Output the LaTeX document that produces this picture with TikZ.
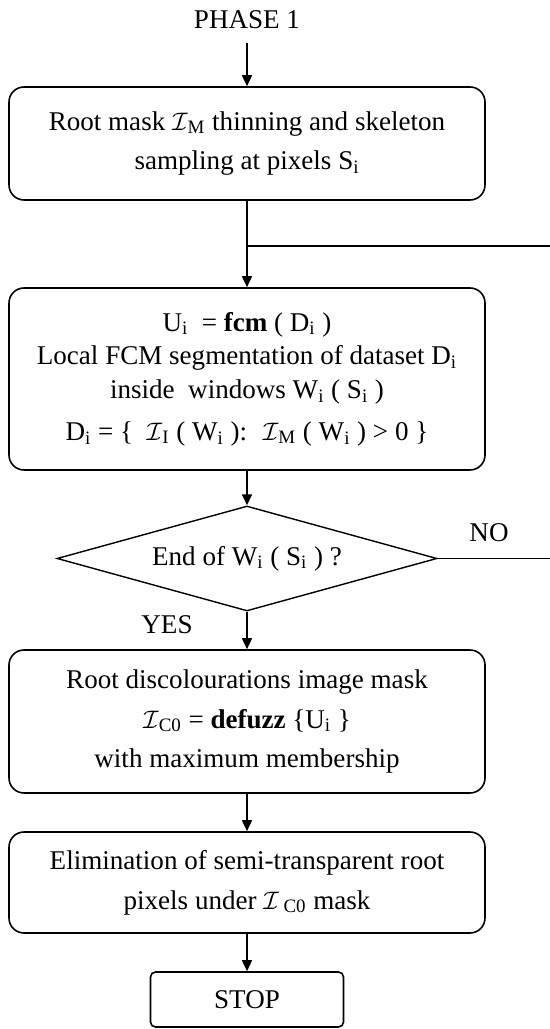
\documentclass[tikz,border=0pt]{standalone}
\usepackage{fontspec}
\setmainfont{Liberation Serif}
\usetikzlibrary{arrows.meta,shapes.geometric}

\newcommand{\sbs}[1]{\textsubscript{#1}}
\newcommand{\imgI}{$\mathcal{I}$}

\begin{document}
\begin{tikzpicture}[
    font=\fontsize{15.4}{22.7}\selectfont,
    procbox/.style={draw, line width=0.9pt, rounded corners=0.3cm, minimum width=9.52cm, align=center, inner sep=0pt},
    decision/.style={draw, line width=0.8pt, diamond, aspect=3.62, minimum width=7.6cm, minimum height=2.1cm, inner sep=0pt},
    stopbox/.style={draw, line width=0.9pt, rounded corners=0.1cm, minimum width=3.86cm, minimum height=1.1cm},
    flow/.style={line width=0.9pt, -{Triangle[length=2.2mm,width=2mm]}},
    link/.style={line width=0.9pt}
]
        \useasboundingbox (0,0) rectangle (11,20.58);

        \coordinate (junc) at (4.94,15.66);
        \coordinate (back) at (11,15.66);
        \coordinate (noend) at (11,9.41);

        \node[inner ysep=8pt] (phase) at (4.94,20.18) {PHASE 1};
        \node[procbox, minimum height=2.26cm] (thin) at (4.94,17.71) {Root mask \imgI\sbs{M} thinning and skeleton\\sampling at pixels S\sbs{i}};
        \node[procbox, minimum height=3.64cm] (fcm) at (4.94,13.0) {U\sbs{i} \ = \textbf{fcm} ( D\sbs{i} )\\[-3.5pt]
            Local FCM segmentation of dataset D\sbs{i}\\[-3.5pt]
            inside \ windows W\sbs{i} ( S\sbs{i} )\\[1pt]
            D\sbs{i} = \{ \ \imgI\sbs{I} ( W\sbs{i} ): \ \imgI\sbs{M} ( W\sbs{i} ) > 0 \}};
        \node[decision] (test) at (4.94,9.41) {End of W\sbs{i} ( S\sbs{i} ) ?};
        \node (no) at (9.78,9.92) {NO};
        \node (yes) at (3.34,8.08) {YES};
        \node[procbox, minimum height=2.86cm] (defuzz) at (4.94,6.15) {Root discolourations image mask\\
            \imgI\sbs{C0} = \textbf{defuzz} \{U\sbs{i} \}\\
            with maximum membership};
        \node[procbox, minimum height=2.02cm] (elim) at (4.94,2.93) {Elimination of semi-transparent root\\pixels under \imgI\,\sbs{C0} mask};
        \node[stopbox] (stop) at (4.94,0.59) {STOP};

        \draw[flow] (phase.south)--(thin.north);
        \draw[link] (thin.south)--(junc);
        \draw[link] (back)--(junc);
        \draw[flow] (junc)--(fcm.north);
        \draw[flow] (fcm.south)--(test.north);
        \draw[link] (test.east)--(noend);
        \draw[flow] (test.south)--(defuzz.north);
        \draw[flow] (defuzz.south)--(elim.north);
        \draw[flow] (elim.south)--(stop.north);

\end{tikzpicture}
\end{document}
